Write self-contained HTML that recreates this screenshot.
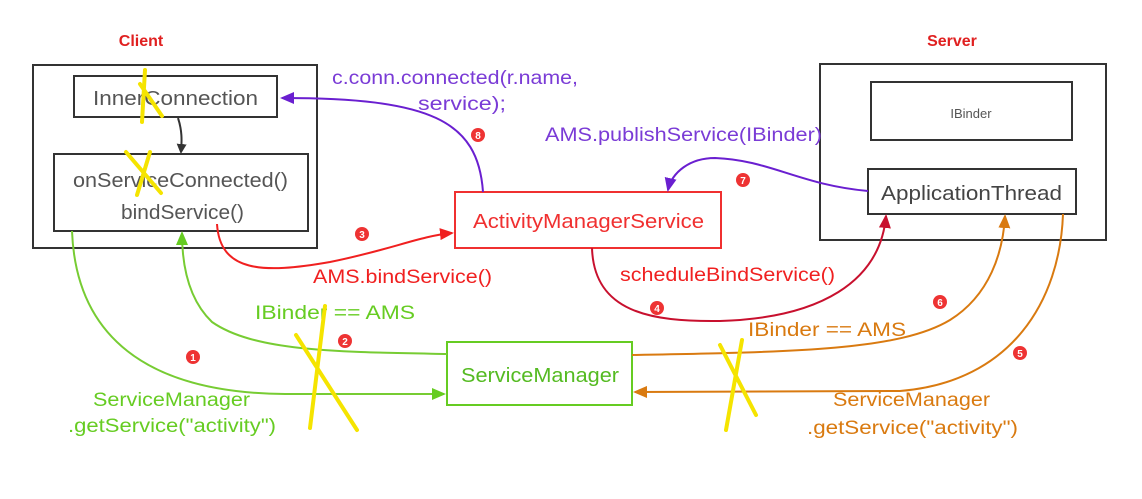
<!DOCTYPE html>
<html><head><meta charset="utf-8"><style>
html,body{margin:0;padding:0;background:#fff;}
svg{display:block;font-family:"Liberation Sans","Noto Sans CJK SC",sans-serif;}
</style></head><body>
<svg width="1142" height="499" viewBox="0 0 1142 499" xmlns="http://www.w3.org/2000/svg">
<defs>
<marker id="ak" markerWidth="10" markerHeight="10" refX="8" refY="5" orient="auto" markerUnits="userSpaceOnUse"><path d="M0,0 L10,5 L0,10 z" fill="#333"/></marker>
<marker id="ap" markerWidth="14" markerHeight="12" refX="12" refY="6" orient="auto" markerUnits="userSpaceOnUse"><path d="M0,0 L14,6 L0,12 z" fill="#6a1fd0"/></marker>
<marker id="ar" markerWidth="14" markerHeight="12" refX="12" refY="6" orient="auto" markerUnits="userSpaceOnUse"><path d="M0,0 L14,6 L0,12 z" fill="#f02020"/></marker>
<marker id="adr" markerWidth="14" markerHeight="12" refX="12" refY="6" orient="auto" markerUnits="userSpaceOnUse"><path d="M0,0 L14,6 L0,12 z" fill="#c8102e"/></marker>
<marker id="ag" markerWidth="14" markerHeight="12" refX="12" refY="6" orient="auto" markerUnits="userSpaceOnUse"><path d="M0,0 L14,6 L0,12 z" fill="#66cc22"/></marker>
<marker id="ao" markerWidth="14" markerHeight="12" refX="12" refY="6" orient="auto" markerUnits="userSpaceOnUse"><path d="M0,0 L14,6 L0,12 z" fill="#d97a10"/></marker>
</defs>

<text x="141" y="46" font-size="16" font-weight="bold" fill="#e02020" text-anchor="middle">Client</text>
<text x="952" y="46" font-size="16" font-weight="bold" fill="#e02020" text-anchor="middle">Server</text>

<!-- client -->
<rect x="33" y="65" width="284" height="183" fill="none" stroke="#333" stroke-width="2"/>
<rect x="74" y="76" width="203" height="41" fill="none" stroke="#333" stroke-width="2"/>
<text x="93" y="105" font-size="20" fill="#555" textLength="165" lengthAdjust="spacingAndGlyphs">InnerConnection</text>
<rect x="54" y="154" width="254" height="77" fill="none" stroke="#333" stroke-width="2"/>
<text x="73" y="187" font-size="20" fill="#555" textLength="215" lengthAdjust="spacingAndGlyphs">onServiceConnected()</text>
<text x="121" y="219" font-size="20" fill="#555" textLength="123" lengthAdjust="spacingAndGlyphs">bindService()</text>
<path d="M178,118 C182,130 182,140 181,152" fill="none" stroke="#333" stroke-width="2" marker-end="url(#ak)"/>

<!-- AMS -->
<rect x="455" y="192" width="266" height="56" fill="#fff" stroke="#f03030" stroke-width="2"/>
<text x="473" y="228" font-size="20" fill="#f03030" textLength="231" lengthAdjust="spacingAndGlyphs">ActivityManagerService</text>

<!-- server -->
<rect x="820" y="64" width="286" height="176" fill="none" stroke="#333" stroke-width="2"/>
<rect x="871" y="82" width="201" height="58" fill="none" stroke="#333" stroke-width="2"/>
<text x="971" y="118" font-size="13" fill="#555" text-anchor="middle">IBinder</text>
<rect x="868" y="169" width="208" height="45" fill="none" stroke="#333" stroke-width="2"/>
<text x="881" y="200" font-size="20" fill="#444" textLength="181" lengthAdjust="spacingAndGlyphs">ApplicationThread</text>

<!-- SM -->
<rect x="447" y="342" width="185" height="63" fill="#fff" stroke="#66cc22" stroke-width="2"/>
<text x="461" y="382" font-size="20" fill="#55bb22" textLength="158" lengthAdjust="spacingAndGlyphs">ServiceManager</text>

<!-- connectors -->
<path d="M483,192 C478,120 430,98 282,98" fill="none" stroke="#6a1fd0" stroke-width="2" marker-end="url(#ap)"/>
<path d="M868,191 C800,185 770,160 715,158 C690,158 672,172 668,190" fill="none" stroke="#6a1fd0" stroke-width="2" marker-end="url(#ap)"/>
<path d="M217,224 C220,272 262,274 330,262 C390,250 420,236 452,233" fill="none" stroke="#f02020" stroke-width="2" marker-end="url(#ar)"/>
<path d="M592,248 C594,312 650,322 720,321 C820,318 880,282 886,216" fill="none" stroke="#c8102e" stroke-width="2" marker-end="url(#adr)"/>
<path d="M72,231 C76,335 145,393 285,394 L444,394" fill="none" stroke="#77cc33" stroke-width="2" marker-end="url(#ag)"/>
<path d="M447,354 C340,352 255,352 212,322 C187,298 182,262 182,233" fill="none" stroke="#77cc33" stroke-width="2" marker-end="url(#ag)"/>
<path d="M632,355 C800,352 900,350 950,320 C990,295 1003,252 1005,216" fill="none" stroke="#d97a10" stroke-width="2" marker-end="url(#ao)"/>
<path d="M1063,214 C1060,300 1012,382 900,391 L635,392" fill="none" stroke="#d97a10" stroke-width="2" marker-end="url(#ao)"/>

<!-- badges -->
<g font-size="10" font-weight="bold" fill="#fff" text-anchor="middle">
<circle cx="478" cy="135" r="7" fill="#ee3333"/><text x="478" y="139">8</text>
<circle cx="743" cy="180" r="7" fill="#ee3333"/><text x="743" y="184">7</text>
<circle cx="362" cy="234" r="7" fill="#ee3333"/><text x="362" y="238">3</text>
<circle cx="657" cy="308" r="7" fill="#ee3333"/><text x="657" y="312">4</text>
<circle cx="193" cy="357" r="7" fill="#ee3333"/><text x="193" y="361">1</text>
<circle cx="345" cy="341" r="7" fill="#ee3333"/><text x="345" y="345">2</text>
<circle cx="940" cy="302" r="7" fill="#ee3333"/><text x="940" y="306">6</text>
<circle cx="1020" cy="353" r="7" fill="#ee3333"/><text x="1020" y="357">5</text>
</g>

<!-- labels -->
<g font-size="19">
<text x="332" y="84" fill="#7a3bd6" textLength="246" lengthAdjust="spacingAndGlyphs">c.conn.connected(r.name,</text>
<text x="418" y="110" fill="#7a3bd6" textLength="88" lengthAdjust="spacingAndGlyphs">service);</text>
<text x="545" y="141" fill="#7a3bd6" textLength="277" lengthAdjust="spacingAndGlyphs">AMS.publishService(IBinder)</text>
<text x="313" y="283" fill="#f02020" textLength="179" lengthAdjust="spacingAndGlyphs">AMS.bindService()</text>
<text x="620" y="281" fill="#f02020" textLength="215" lengthAdjust="spacingAndGlyphs">scheduleBindService()</text>
<text x="255" y="319" fill="#66cc22" textLength="160" lengthAdjust="spacingAndGlyphs">IBinder == AMS</text>
<text x="748" y="336" fill="#d97a10" textLength="158" lengthAdjust="spacingAndGlyphs">IBinder == AMS</text>
<text x="93" y="406" fill="#66cc22" textLength="157" lengthAdjust="spacingAndGlyphs">ServiceManager</text>
<text x="68" y="432" fill="#66cc22" textLength="208" lengthAdjust="spacingAndGlyphs">.getService("activity")</text>
<text x="833" y="406" fill="#d97a10" textLength="157" lengthAdjust="spacingAndGlyphs">ServiceManager</text>
<text x="807" y="434" fill="#d97a10" textLength="211" lengthAdjust="spacingAndGlyphs">.getService("activity")</text>
</g>

<!-- yellow crosses -->
<g stroke="#f5e400" stroke-width="4" stroke-linecap="round" fill="none">
<path d="M145,70 L142,122 M140,84 L162,116"/>
<path d="M150,152 L137,195 M126,152 L161,193"/>
<path d="M325,306 L310,428 M296,335 L357,430"/>
<path d="M742,340 L726,430 M720,345 L756,415"/>
</g>
</svg>
</body></html>
